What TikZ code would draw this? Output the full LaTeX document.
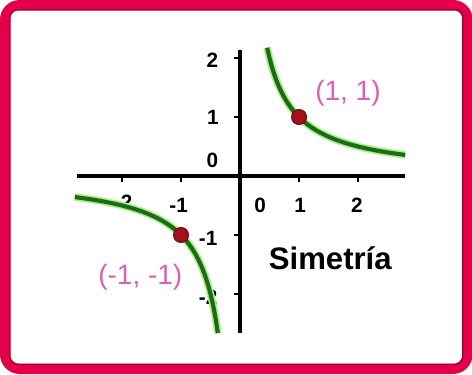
\documentclass[tikz,border=0pt]{standalone}
\usepackage{fontspec}
\setmainfont{Liberation Sans}
\usetikzlibrary{positioning}
\definecolor{framered}{RGB}{228,0,72}
\definecolor{framedark}{RGB}{160,0,45}
\definecolor{curvegreen}{RGB}{25,110,20}
\definecolor{halogreen}{RGB}{175,235,140}
\definecolor{dotred}{RGB}{165,15,30}
\definecolor{labelpink}{RGB}{222,95,180}
\tikzset{
  ticklab/.style={font=\bfseries\fontsize{10}{12}\selectfont,inner sep=0pt},
  ptlab/.style={text=labelpink,font=\fontsize{13.5}{16}\selectfont,inner sep=0pt},
  ptdot/.style={circle,fill=dotred,draw=dotred!70!black,line width=0.6pt,minimum size=0.25cm,inner sep=0pt},
  branch/.style={curvegreen,line width=2pt,preaction={draw=halogreen,line width=3.6pt}},
}

\begin{document}
\begin{tikzpicture}[x=1cm,y=1cm]
\useasboundingbox (-4.068,-3.356) rectangle (3.932,2.983);
% frame
\draw[framered,line width=0.17cm,rounded corners=0.25cm,fill=white] (-3.983,-3.271) rectangle (3.857,2.898);
\draw[framedark,line width=0.6pt,rounded corners=0.12cm] (-3.90,-3.19) rectangle (3.775,2.815);
% axes and ticks
\draw[line width=1.5pt] (-2.76,0) -- (2.8,0);
\draw[line width=1.5pt] (0,-2.66) -- (0,2.14);
\foreach \t in {-2,-1,1,2} {
  \draw[line width=1.2pt] (\t,0) -- (\t,-0.1);
  \draw[line width=1.2pt] (0,\t) -- (-0.1,\t);
}
% tick labels
\foreach \x/\y/\l/\n in {-1.98/-0.45/{-2}/xm2,-1.04/-0.49/{-1}/xm1,0.34/-0.49/{0}/x0,1.02/-0.49/{1}/x1,1.98/-0.49/{2}/x2,
                         -0.47/1.97/{2}/y2,-0.46/1.0/{1}/y1,-0.47/0.27/{0}/y0,-0.54/-1.05/{-1}/ym1,-0.54/-2.05/{-2}/ym2} {
  \node[ticklab] (\n) at (\x,\y) {\l};
}
% the two branches of y = 1/x
\draw[branch] plot[domain=0.46:2.8,samples=60,smooth] (\x,{1/\x});
\draw[branch] plot[domain=-2.8:-0.375,samples=60,smooth] (\x,{1/\x});
% marked points
\node[ptdot] (p) at (1,1) {};
\node[ptdot] (q) at (-1,-1) {};
\node[ptlab] (plab) at (1.83,1.41) {(1, 1)};
\node[ptlab] (qlab) at (-1.69,-1.71) {(-1, -1)};
\node[font=\bfseries\fontsize{15}{18}\selectfont,inner sep=0pt] (sim) at (1.53,-1.39) {Simetría};
\end{tikzpicture}
\end{document}
